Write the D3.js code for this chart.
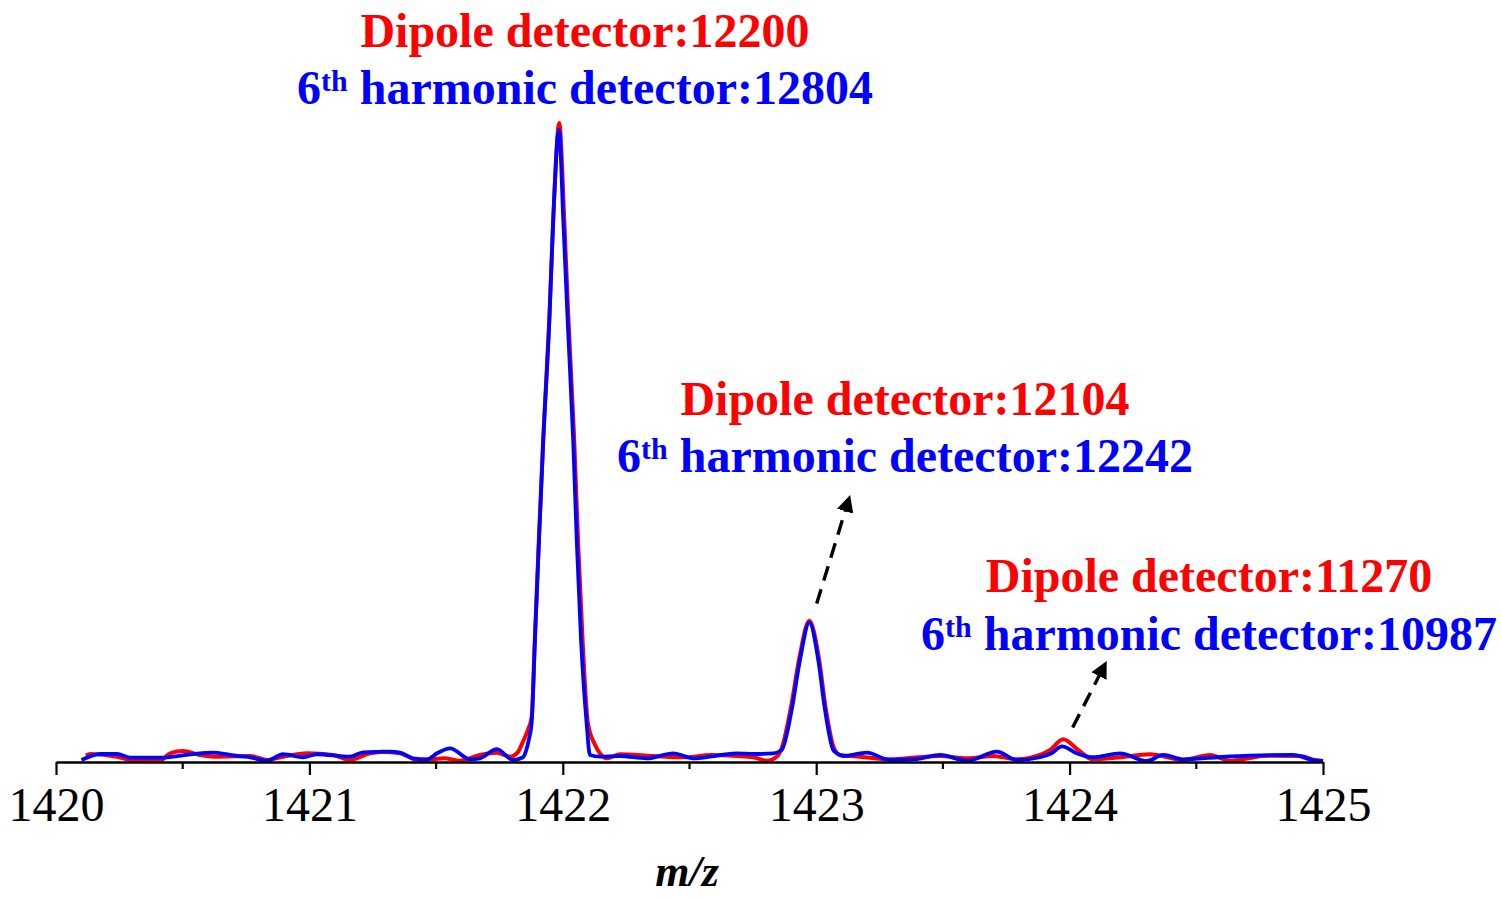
<!DOCTYPE html>
<html>
<head>
<meta charset="utf-8">
<script src="https://cdn.jsdelivr.net/npm/d3@7"></script>
<style>
  html, body { margin: 0; padding: 0; background: #fff; }
  svg { display: block; }
  text { font-family: "Liberation Serif", "Times New Roman", serif; }
</style>
</head>
<body>
<svg id="chart" width="1501" height="900"></svg>
<script>
// m/z values and relative intensity
const dipoleSeries = [
  [1420.118, 1.0], [1420.135, 1.25], [1420.241, 0.83], [1420.292, 0.31], [1420.410, 0.20],
  [1420.450, 1.36], [1420.501, 1.72], [1420.568, 1.10], [1420.635, 0.83], [1420.766, 0.94],
  [1420.833, 0.31], [1420.896, 0.83], [1420.991, 1.36], [1421.093, 1.10], [1421.160, 0.31],
  [1421.239, 1.36], [1421.290, 1.61], [1421.358, 1.36], [1421.425, 0.31], [1421.488, 0.42],
  [1421.530, 0.60], [1421.594, 0.20], [1421.673, 1.10], [1421.740, 1.46], [1421.792, 0.83],
  [1421.822, 1.5], [1421.843, 3.2], [1421.860, 4.8], [1421.877, 7.0], [1421.890, 19.5],
  [1421.906, 35.2], [1421.923, 50.8], [1421.947, 69.5], [1421.963, 85.5], [1421.986, 100],
  [1422.005, 85.5], [1422.022, 69.5], [1422.045, 50.4], [1422.060, 34.7], [1422.078, 19.1],
  [1422.099, 6.1], [1422.127, 2.7], [1422.150, 1.2], [1422.174, 0.58], [1422.226, 1.21],
  [1422.356, 0.94], [1422.489, 0.74], [1422.581, 1.10], [1422.686, 0.94], [1422.752, 0.74],
  [1422.805, 0.20], [1422.844, 0.83], [1422.864, 2.2], [1422.900, 8.5], [1422.934, 16.4],
  [1422.973, 22.1], [1423.010, 16.4], [1423.038, 8.3], [1423.070, 2.2], [1423.094, 1.1],
  [1423.173, 0.83], [1423.291, 0.42], [1423.358, 0.58], [1423.489, 0.94], [1423.595, 0.58],
  [1423.698, 0.94], [1423.792, 0.42], [1423.883, 1.10], [1423.923, 1.88], [1423.975, 3.55],
  [1424.034, 1.88], [1424.092, 0.42], [1424.199, 0.74], [1424.317, 1.21], [1424.448, 0.31],
  [1424.554, 1.10], [1424.633, 0.20], [1424.779, 0.99], [1424.909, 0.94], [1424.968, 0.31],
  [1425.0, 0.16]
];

const harmonicSeries = [
  [1420.101, 0.31], [1420.174, 1.25], [1420.241, 1.25], [1420.292, 0.67], [1420.410, 0.67],
  [1420.568, 1.36], [1420.620, 1.46], [1420.687, 1.10], [1420.766, 0.74], [1420.833, 0.20],
  [1420.896, 1.21], [1420.975, 0.74], [1421.030, 1.21], [1421.160, 0.83], [1421.212, 1.52],
  [1421.318, 1.61], [1421.358, 1.46], [1421.409, 0.58], [1421.464, 0.42], [1421.504, 1.36],
  [1421.555, 2.14], [1421.634, 0.42], [1421.673, 0.58], [1421.740, 2.03], [1421.803, 0.31],
  [1421.843, 0.74], [1421.853, 1.5], [1421.866, 3.5], [1421.877, 6.1], [1421.890, 19.1],
  [1421.906, 34.7], [1421.923, 50.4], [1421.947, 69.2], [1421.962, 84.8], [1421.985, 98.9],
  [1422.002, 84.8], [1422.019, 69.2], [1422.041, 50.4], [1422.055, 34.7], [1422.072, 19.1],
  [1422.094, 6.1], [1422.107, 1.1], [1422.147, 0.83], [1422.226, 0.94], [1422.331, 0.58],
  [1422.436, 1.36], [1422.515, 0.58], [1422.581, 0.83], [1422.686, 1.36], [1422.752, 1.25],
  [1422.831, 1.36], [1422.864, 1.9], [1422.903, 8.1], [1422.936, 16.0], [1422.973, 21.8],
  [1423.008, 16.0], [1423.035, 8.1], [1423.067, 1.9], [1423.082, 1.36], [1423.106, 0.94],
  [1423.200, 1.46], [1423.291, 0.31], [1423.398, 0.47], [1423.489, 1.10], [1423.595, 0.20],
  [1423.713, 1.61], [1423.792, 0.31], [1423.883, 0.74], [1423.929, 1.36], [1423.970, 2.43],
  [1424.028, 1.36], [1424.092, 0.74], [1424.199, 1.36], [1424.305, 0.16], [1424.369, 1.10],
  [1424.448, 0.42], [1424.582, 0.74], [1424.712, 0.99], [1424.882, 1.10], [1424.961, 0.31],
  [1425.0, 0.16]
];

const majorTicks = [1420, 1421, 1422, 1423, 1424, 1425];
const minorTicks = [1420.5, 1421.5, 1422.5, 1423.5, 1424.5];

// resolution values shown above each peak
const dipoleResolution = [12200, 12104, 11270];
const harmonicResolution = [12804, 12242, 10987];

// label layout (pixels) and arrows (data coordinates)
const labelLayout = [
  { cx: 585, y1: 47, y2: 104 },
  { cx: 905, y1: 415, y2: 472 },
  { cx: 1209, y1: 592, y2: 650 }
];
const arrows = [
  { from: [1423.002, 24.8], to: [1423.137, 42.2] },
  { from: [1424.012, 5.4], to: [1424.140, 15.3] }
];

const svg = d3.select('#chart');

const x = d3.scaleLinear().domain([1420, 1425]).range([56, 1323]);
const y = d3.scaleLinear().domain([0, 100]).range([762, 123]);

const line = d3.line()
  .x(d => x(d[0]))
  .y(d => y(d[1]))
  .curve(d3.curveMonotoneX);

svg.append('path')
  .datum(dipoleSeries)
  .attr('d', line)
  .attr('fill', 'none')
  .attr('stroke', '#ff0000')
  .attr('stroke-width', 4)
  .attr('stroke-linejoin', 'round');

svg.append('path')
  .datum(harmonicSeries)
  .attr('d', line)
  .attr('fill', 'none')
  .attr('stroke', '#0000ff')
  .attr('stroke-width', 3.8)
  .attr('stroke-linejoin', 'round');

// x axis: major ticks with labels, minor ticks at the half units
const axis = svg.append('g')
  .attr('transform', `translate(0,${y(0)})`)
  .call(d3.axisBottom(x).tickValues(majorTicks).tickSize(13).tickSizeOuter(0).tickFormat(d3.format('d')));

axis.select('.domain').attr('stroke', '#000').attr('stroke-width', 2.4);
axis.selectAll('.tick line').attr('stroke', '#000').attr('stroke-width', 2.2);
axis.selectAll('.tick text')
  .attr('y', 59)
  .attr('dy', 0)
  .attr('fill', '#000')
  .style('font-family', '"Liberation Serif", "Times New Roman", serif')
  .style('font-size', '48px');

svg.append('g')
  .selectAll('line')
  .data(minorTicks)
  .join('line')
  .attr('x1', d => x(d))
  .attr('x2', d => x(d))
  .attr('y1', y(0))
  .attr('y2', y(0) + 7)
  .attr('stroke', '#000')
  .attr('stroke-width', 2.2);

svg.append('text')
  .attr('x', 687)
  .attr('y', 886)
  .attr('text-anchor', 'middle')
  .style('font-size', '44px')
  .style('font-weight', 'bold')
  .style('font-style', 'italic')
  .text('m/z');

// peak labels
labelLayout.forEach((pos, i) => {
  svg.append('text')
    .attr('x', pos.cx)
    .attr('y', pos.y1)
    .attr('text-anchor', 'middle')
    .attr('fill', '#ff0000')
    .style('font-size', '48px')
    .style('font-weight', 'bold')
    .text(`Dipole detector:${dipoleResolution[i]}`);

  const t = svg.append('text')
    .attr('x', pos.cx)
    .attr('y', pos.y2)
    .attr('text-anchor', 'middle')
    .attr('fill', '#0000ff')
    .style('font-size', '48px')
    .style('font-weight', 'bold');
  t.append('tspan').text('6');
  t.append('tspan').attr('dy', -13).style('font-size', '30px').text('th');
  t.append('tspan').attr('dy', 13).text(` harmonic detector:${harmonicResolution[i]}`);
});

// dashed arrows pointing from peaks to their labels
svg.append('defs').append('marker')
  .attr('id', 'head')
  .attr('viewBox', '0 0 10 10')
  .attr('refX', 2)
  .attr('refY', 5)
  .attr('markerWidth', 5)
  .attr('markerHeight', 5)
  .attr('markerUnits', 'strokeWidth')
  .attr('orient', 'auto')
  .append('path')
  .attr('d', 'M0,0L10,5L0,10Z')
  .attr('fill', '#000');

svg.append('g')
  .selectAll('line')
  .data(arrows)
  .join('line')
  .attr('x1', d => x(d.from[0]))
  .attr('y1', d => y(d.from[1]))
  .attr('x2', d => x(d.to[0]) - (x(d.to[0]) - x(d.from[0])) * 0.14)
  .attr('y2', d => y(d.to[1]) - (y(d.to[1]) - y(d.from[1])) * 0.14)
  .attr('stroke', '#000')
  .attr('stroke-width', 3.4)
  .attr('stroke-dasharray', '15,9')
  .attr('marker-end', 'url(#head)');
</script>
</body>
</html>
